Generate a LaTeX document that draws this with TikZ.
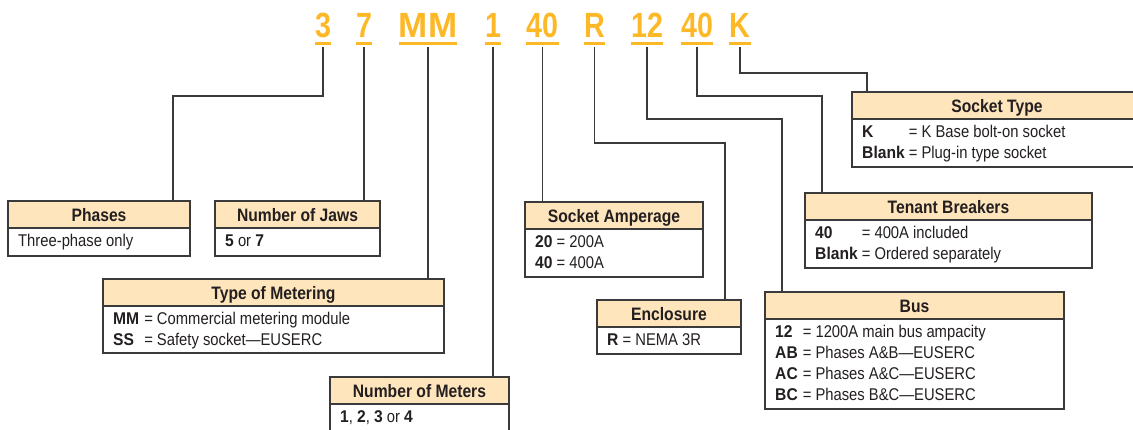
\documentclass[tikz,border=0pt]{standalone}
\usepackage{fontspec}
\setmainfont{Liberation Sans}[FakeStretch=0.87,BoldFeatures={FakeStretch=0.92}]
\newfontfamily\headfont{Liberation Sans}[FakeStretch=0.87]
\newfontfamily\codefont{Liberation Sans}[FakeStretch=0.82]
\newfontfamily\codewide{Liberation Sans}[FakeStretch=1.0]
\definecolor{codeorange}{HTML}{FDB827}
\definecolor{hdrfill}{HTML}{FFE5BC}
\definecolor{ink}{HTML}{231F20}
\definecolor{edge}{HTML}{3A3A3A}
\newcommand\infobox[6]{%
  \node[infobox, minimum width=#4pt, minimum height=#5pt] (#1) at (#2,#3) {};
  \fill[hdrfill] ([shift={(0.6pt,-0.6pt)}]#1.north west) rectangle ([shift={(-0.6pt,-27pt)}]#1.north east);
  \draw[boxline] ([yshift=-27pt]#1.north west) -- ([yshift=-27pt]#1.north east);
  \node[htext] (#1h) at ([yshift=-20pt]#1.north) {#6};
}
\begin{document}
\begin{tikzpicture}[x=1pt,y=-1pt,
  codest/.style={anchor=base, inner sep=0pt, text=codeorange, font=\codefont\bfseries\fontsize{35}{35}\selectfont},
  codeline/.style={draw=codeorange, line width=3pt},
  conn/.style={draw=edge, line width=1.3pt},
  boxline/.style={draw=edge, line width=1.2pt},
  infobox/.style={boxline, fill=white, inner sep=0pt, outer sep=0pt, anchor=north west},
  htext/.style={anchor=base, inner sep=0pt, text=ink, font=\headfont\bfseries\fontsize{18}{20}\selectfont},
  btext/.style={anchor=base west, inner sep=0pt, text=ink, font=\fontsize{17}{21}\selectfont, align=left},
]
\useasboundingbox (0,0) rectangle (1133,429);
\clip (0,0) rectangle (1133,429);

% code letters
\node[codest] (c3) at (323,37) {3};
\node[codest] (c7) at (364,37) {7};
\node[codest, font=\codewide\bfseries\fontsize{35}{35}\selectfont] (cMM) at (428,37) {MM};
\node[codest] (c1) at (493,37) {1};
\node[codest] (c40a) at (542.5,37) {40};
\node[codest] (cR) at (594.5,37) {R};
\node[codest] (c12) at (647,37) {12};
\node[codest] (c40b) at (697,37) {40};
\node[codest] (cK) at (740,37) {K};
\foreach \c in {c3,c7,cMM,c1,c40a,cR,c12,c40b,cK}{
  \draw[codeline] ([yshift=-6.5pt]\c.base west) -- ([yshift=-6.5pt]\c.base east);
}

% boxes
\infobox{phases}{8}{201}{182}{55}{Phases}
\node[btext] (phasesb) at ([shift={(10pt,-45pt)}]phases.north west) {Three-phase only};

\infobox{jaws}{215}{201}{165}{55}{Number of Jaws}
\node[btext] (jawsb) at ([shift={(10pt,-45pt)}]jaws.north west) {\textbf{5} or \textbf{7}};

\infobox{metering}{103}{279}{341}{74}{Type of Metering}
\node[btext] (meteringb) at ([shift={(10pt,-45pt)}]metering.north west)
  {\begin{tabular}[t]{@{}l@{\hspace{5pt}}l@{}}\textbf{MM} & = Commercial metering module\\ \textbf{SS} & = Safety socket---EUSERC\end{tabular}};

\infobox{meters}{330}{377}{179}{62}{Number of Meters}
\node[btext] (metersb) at ([shift={(10pt,-45pt)}]meters.north west) {\textbf{1}, \textbf{2}, \textbf{3} or \textbf{4}};

\infobox{amperage}{525}{202}{178}{75}{Socket Amperage}
\node[btext] (amperageb) at ([shift={(10pt,-45pt)}]amperage.north west)
  {\begin{tabular}[t]{@{}l@{\hspace{4pt}}l@{}}\textbf{20} & = 200A\\ \textbf{40} & = 400A\end{tabular}};

\infobox{enclosure}{597}{300}{144}{54}{Enclosure}
\node[btext] (enclosureb) at ([shift={(10pt,-45pt)}]enclosure.north west) {\textbf{R} = NEMA 3R};

\infobox{sockettype}{852}{92}{290}{75}{Socket Type}
\node[btext] (sockettypeb) at ([shift={(10pt,-45pt)}]sockettype.north west)
  {\begin{tabular}[t]{@{}l@{\hspace{4pt}}l@{}}\textbf{K} & = K Base bolt-on socket\\ \textbf{Blank} & = Plug-in type socket\end{tabular}};

\infobox{tenant}{805}{193}{287}{75}{Tenant Breakers}
\node[btext] (tenantb) at ([shift={(10pt,-45pt)}]tenant.north west)
  {\begin{tabular}[t]{@{}l@{\hspace{4pt}}l@{}}\textbf{40} & = 400A included\\ \textbf{Blank} & = Ordered separately\end{tabular}};

\infobox{bus}{765}{292}{299}{117}{Bus}
\node[btext] (busb) at ([shift={(10pt,-45pt)}]bus.north west)
  {\begin{tabular}[t]{@{}l@{\hspace{5pt}}l@{}}\textbf{12} & = 1200A main bus ampacity\\ \textbf{AB} & = Phases A\&B---EUSERC\\ \textbf{AC} & = Phases A\&C---EUSERC\\ \textbf{BC} & = Phases B\&C---EUSERC\end{tabular}};

% connectors
\draw[conn] ([yshift=-10pt]c3.base) -- ([yshift=-59pt]c3.base) -| ([xshift=-17pt]phases.north east);
\draw[conn] ([yshift=-10pt]c7.base) -- (c7.base |- jaws.north);
\draw[conn] ([yshift=-10pt]cMM.base) -- (cMM.base |- metering.north);
\draw[conn] ([yshift=-10pt]c1.base) -- (c1.base |- meters.north);
\draw[conn] ([yshift=-10pt]c40a.base) -- (c40a.base |- amperage.north);
\draw[conn] ([yshift=-10pt]cR.base) -- ([yshift=-106pt]cR.base) -| ([xshift=-16pt]enclosure.north east);
\draw[conn] ([yshift=-10pt]c12.base) -- ([yshift=-82pt]c12.base) -| ([xshift=17pt]bus.north west);
\draw[conn] ([yshift=-10pt]c40b.base) -- ([yshift=-59pt]c40b.base) -| ([xshift=17pt]tenant.north west);
\draw[conn] ([yshift=-10pt]cK.base) -- ([yshift=-36pt]cK.base) -| ([xshift=15pt]sockettype.north west);
\end{tikzpicture}
\end{document}
